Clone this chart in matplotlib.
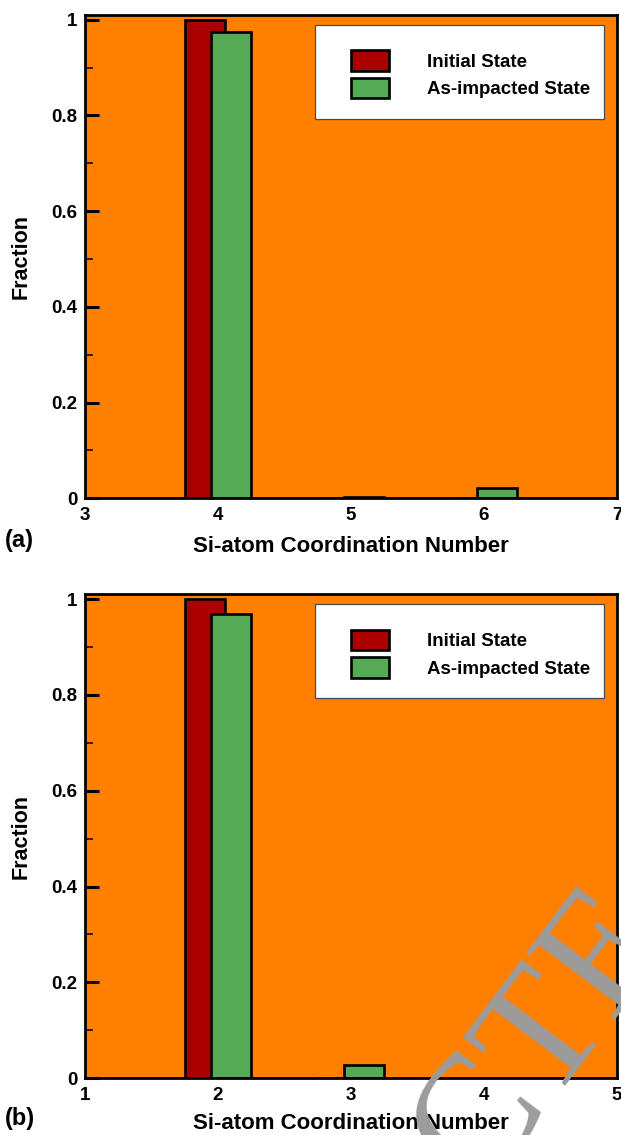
import matplotlib
matplotlib.use("Agg")
import matplotlib.pyplot as plt
from matplotlib.patches import Rectangle, Patch
from matplotlib.ticker import MultipleLocator

plt.rcParams['font.family'] = ['Liberation Sans', 'DejaVu Sans']
plt.rcParams['font.weight'] = 'bold'

# ---- data ----
series_names = ["Initial State", "As-impacted State"]
coord_a = [4, 5, 6]
initial_a = [1.0, 0.0, 0.0]
impacted_a = [0.974, 0.003, 0.022]
xticks_a = [3, 4, 5, 6, 7]

coord_b = [2, 3]
initial_b = [1.0, 0.0]
impacted_b = [0.969, 0.027]
xticks_b = [1, 2, 3, 4, 5]

yticks = [0, 0.2, 0.4, 0.6, 0.8, 1]
ytick_labels = ["0", "0.2", "0.4", "0.6", "0.8", "1"]

panel_labels = ["(a)", "(b)"]
xlabel = "Si-atom Coordination Number"
ylabel = "Fraction"
watermark = "CTE"

# ---- style ----
BG = "#FF8000"
RED = "#AA0000"
GREEN = "#55AA55"
W = 0.3
OFF = 0.1
H = 1135.0

fig = plt.figure(figsize=(6.21, 11.35), dpi=100)
axes = [fig.add_axes([0.1369, 0.5610, 0.8567, 0.4258]),
        fig.add_axes([0.1369, 0.0500, 0.8567, 0.4264])]

datasets = [(coord_a, initial_a, impacted_a, xticks_a),
            (coord_b, initial_b, impacted_b, xticks_b)]
label_y = [541, 1119]
xlabel_pad = [9, 7]

for i, (ax, (cx, ini, imp, xt), plabel) in enumerate(zip(axes, datasets, panel_labels)):
    ax.set_facecolor(BG)
    xs = [c - OFF for c in cx]
    xg = [c + OFF for c in cx]
    ax.bar(xs, ini, width=W, color=RED, edgecolor="black", linewidth=1.9, zorder=2)
    ax.bar(xg, imp, width=W, color=GREEN, edgecolor="black", linewidth=1.9, zorder=2.1)
    ax.set_xlim(xt[0], xt[-1])
    ax.set_ylim(0, 1.01)
    ax.set_xticks(xt)
    ax.set_xticklabels([str(t) for t in xt], fontsize=13.5, fontweight="bold")
    ax.set_yticks(yticks)
    ax.set_yticklabels(ytick_labels, fontsize=13.5, fontweight="bold")
    ax.yaxis.set_minor_locator(MultipleLocator(0.1))
    ax.tick_params(axis="y", which="major", direction="in", length=10, width=2.2, pad=5.5, right=False)
    ax.tick_params(axis="y", which="minor", direction="in", length=5.5, width=1.1, right=False)
    ax.tick_params(axis="x", which="both", length=0, pad=6)
    for s in ax.spines.values():
        s.set_linewidth(2.0)
        s.set_zorder(3)
    ax.set_xlabel(xlabel, fontsize=16, fontweight="bold", labelpad=xlabel_pad[i])
    ax.set_ylabel(ylabel, fontsize=15.5, fontweight="bold", labelpad=14)

    # legend frame
    ax.add_patch(Rectangle((0.4323, 0.7855), 0.5433, 0.1938, transform=ax.transAxes,
                           facecolor="white", edgecolor="#4a4a4a", linewidth=0.9, zorder=4))
    handles = [Patch(facecolor=RED, edgecolor="black", linewidth=1.9),
               Patch(facecolor=GREEN, edgecolor="black", linewidth=1.9)]
    leg = ax.legend(handles, series_names, loc="upper left", bbox_to_anchor=(0.5, 0.927),
                    frameon=False, fontsize=13.5, handlelength=2.0, handleheight=1.3,
                    handletextpad=2.05, labelspacing=0.38, borderpad=0, borderaxespad=0)
    leg.set_zorder(5)
    for t in leg.get_texts():
        t.set_fontweight("bold")

    fig.text(0.008, 1 - label_y[i] / H, plabel, fontsize=17, fontweight="bold",
             ha="left", va="center")

# partial diagonal proof watermark seen at lower right
fig.text(543 / 621, 1 - 1038 / H, watermark, fontsize=122, family="Liberation Serif",
         fontweight="normal", color="#9c9c9c", rotation=53, rotation_mode="anchor",
         ha="center", va="center", zorder=10)

fig.savefig("out.png", dpi=100)
